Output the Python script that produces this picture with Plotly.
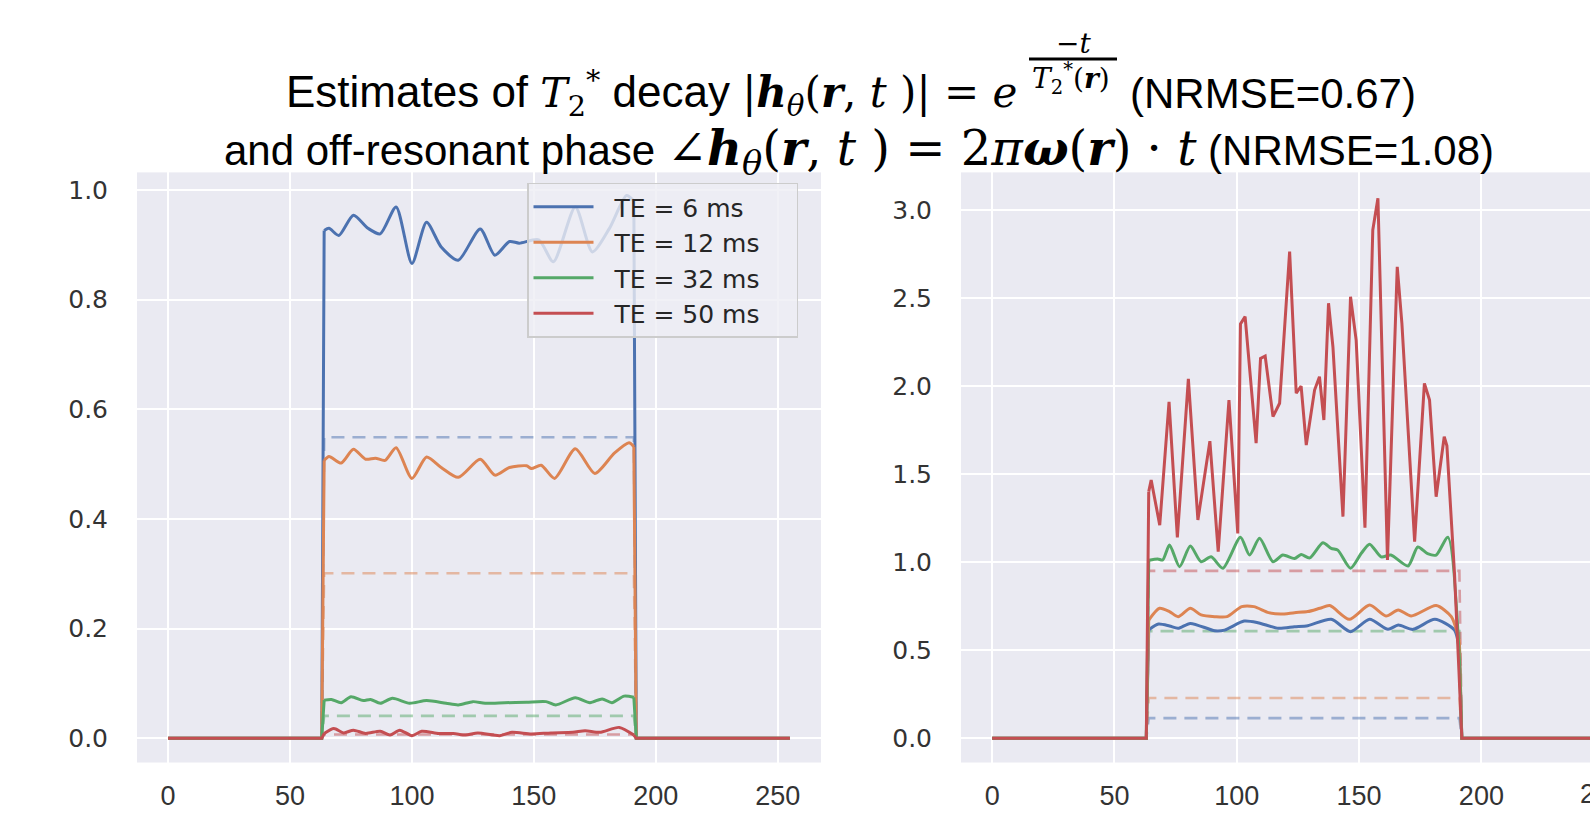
import plotly.graph_objects as go

# ---------------- data ----------------
te_labels = ["TE = 6 ms", "TE = 12 ms", "TE = 32 ms", "TE = 50 ms"]
colors = ["#4C72B0", "#DD8452", "#55A868", "#C44E52"]
dash_colors = ["rgba(76,114,176,0.5)", "rgba(221,132,82,0.5)", "rgba(85,168,104,0.5)", "rgba(196,78,82,0.5)"]

# Left panel: magnitude estimates
mag_x_6 = [0, 63, 64, 66, 70, 76, 82, 87, 93.5, 100, 106, 112, 119, 128, 134, 140, 144, 152, 158, 167, 174, 181, 188, 191, 192, 255]
mag_y_6 = [0, 0, 0.926, 0.93, 0.917, 0.954, 0.93, 0.92, 0.969, 0.866, 0.941, 0.896, 0.872, 0.929, 0.881, 0.906, 0.903, 0.909, 0.869, 0.969, 0.887, 0.93, 0.99, 0.98, 0, 0]

mag_x_12 = [0, 63, 64, 66, 71, 76, 81, 85, 89, 93.5, 100, 106, 112, 119, 128, 134, 140, 147, 149, 153, 158.5, 167, 175, 183, 189, 191, 192, 255]
mag_y_12 = [0, 0, 0.507, 0.514, 0.502, 0.527, 0.509, 0.511, 0.507, 0.53, 0.474, 0.513, 0.494, 0.476, 0.509, 0.48, 0.494, 0.497, 0.492, 0.498, 0.474, 0.528, 0.483, 0.52, 0.539, 0.532, 0, 0]

mag_x_32 = [0, 63, 64, 67, 71, 75, 80, 83, 87, 92, 99, 106, 114, 119, 125, 130, 138, 147, 155, 159, 167, 173, 178, 182, 187, 191, 192, 255]
mag_y_32 = [0, 0, 0.0697, 0.071, 0.065, 0.076, 0.069, 0.071, 0.064, 0.073, 0.064, 0.069, 0.064, 0.061, 0.067, 0.064, 0.065, 0.066, 0.067, 0.061, 0.074, 0.065, 0.072, 0.065, 0.077, 0.075, 0, 0]

mag_x_50 = [0, 63, 64, 68, 72, 76, 81, 87, 91, 95, 100, 104, 111, 117, 122, 127, 136, 141, 149, 157, 166, 171, 177, 185, 191, 192, 255]
mag_y_50 = [0, 0, 0.009, 0.018, 0.01, 0.015, 0.009, 0.013, 0.006, 0.015, 0.005, 0.013, 0.009, 0.009, 0.006, 0.01, 0.005, 0.011, 0.008, 0.01, 0.011, 0.014, 0.011, 0.02, 0.006, 0, 0]

# ground truth levels (dashed)
gt_x = [0, 63, 64, 191, 192, 255]
mag_truth = [0.549, 0.301, 0.041, 0.007]
phase_truth = [0.114, 0.228, 0.608, 0.95]

# Right panel: phase estimates
ph_x_6 = [0, 63, 64, 68, 72.5, 76, 81, 91, 95, 103, 108.6, 117, 123.6, 129, 138.6, 146.5, 154.3, 161.8, 166, 172, 181, 189, 191, 192, 255]
ph_y_6 = [0, 0, 0.615, 0.648, 0.637, 0.624, 0.652, 0.61, 0.614, 0.665, 0.656, 0.624, 0.633, 0.639, 0.675, 0.605, 0.675, 0.618, 0.643, 0.618, 0.675, 0.614, 0.5, 0, 0]

ph_x_12 = [0, 63, 64, 68.4, 72.5, 76, 81, 85.4, 91, 96, 102, 107, 113, 118, 123.6, 129, 134, 138, 146, 154.3, 161, 166, 171.3, 181.5, 187.7, 191, 192, 255]
ph_y_12 = [0, 0, 0.671, 0.738, 0.719, 0.69, 0.738, 0.70, 0.69, 0.69, 0.747, 0.747, 0.713, 0.705, 0.713, 0.719, 0.738, 0.753, 0.675, 0.756, 0.694, 0.728, 0.694, 0.753, 0.69, 0.55, 0, 0]

ph_x_32 = [0, 63, 64, 67.7, 69.7, 72.5, 76.6, 81, 85.4, 89.5, 94.3, 101.5, 105.2, 109.3, 114.8, 118.8, 123.6, 126.3, 129.8, 135.2, 138.6, 141.3, 146.5, 150.9, 154.3, 159, 163, 170, 174, 178, 181.5, 186.3, 191, 192, 255]
ph_y_32 = [0, 0, 1.01, 1.018, 1.012, 1.097, 0.974, 1.091, 1.002, 1.03, 0.965, 1.141, 1.04, 1.135, 1.002, 1.04, 1.02, 1.043, 1.024, 1.11, 1.078, 1.068, 0.965, 1.05, 1.102, 1.03, 1.04, 0.978, 1.086, 1.048, 1.04, 1.141, 0.45, 0, 0]

ph_x_50 = [0, 63, 64, 65, 68.5, 72.3, 75.7, 80.2, 84.1, 89, 92.4, 96.8, 100.4, 101.5, 103.4, 107.9, 109.7, 111.6, 114.8, 117.5, 121.6, 124.3, 126.3, 128.4, 131.8, 133.8, 135.6, 137.5, 139.3, 143.4, 146.5, 148.8, 152.4, 155.6, 157.7, 161.6, 165.6, 167.5, 172.7, 176.7, 178.8, 181.5, 184.8, 185.9, 189, 190.8, 192, 255]
ph_y_50 = [0, 0, 1.40, 1.466, 1.21, 1.91, 1.14, 2.04, 1.239, 1.687, 1.059, 1.92, 1.163, 2.352, 2.394, 1.675, 2.157, 2.17, 1.826, 1.902, 2.763, 1.959, 2.0, 1.665, 1.977, 2.053, 1.807, 2.47, 2.223, 1.258, 2.507, 2.261, 1.195, 2.886, 3.066, 1.012, 2.677, 2.356, 1.116, 2.015, 1.92, 1.371, 1.712, 1.66, 0.936, 0.387, 0, 0]

x_ticks_left = [0, 50, 100, 150, 200, 250]
x_ticks_right = [0, 50, 100, 150, 200]
y_ticks_left = [0.0, 0.2, 0.4, 0.6, 0.8, 1.0]
y_ticks_right = [0.0, 0.5, 1.0, 1.5, 2.0, 2.5, 3.0]

mag_series = [(mag_x_6, mag_y_6), (mag_x_12, mag_y_12), (mag_x_32, mag_y_32), (mag_x_50, mag_y_50)]
ph_series = [(ph_x_6, ph_y_6), (ph_x_12, ph_y_12), (ph_x_32, ph_y_32), (ph_x_50, ph_y_50)]

# ---------------- figure ----------------
W, H = 1590, 815
fig = go.Figure()

LW = 3.0
DASH = dict(width=2.6, dash="13px,8px")
NB = "\u00a0"

for i in range(4):
    g = mag_truth[i]
    fig.add_trace(go.Scatter(x=gt_x, y=[0, 0, g, g, 0, 0], mode="lines",
                             line=dict(color=dash_colors[i], **DASH),
                             showlegend=False, xaxis="x", yaxis="y", hoverinfo="skip"))
for i in range(4):
    g = phase_truth[i]
    fig.add_trace(go.Scatter(x=gt_x, y=[0, 0, g, g, 0, 0], mode="lines",
                             line=dict(color=dash_colors[i], **DASH),
                             showlegend=False, xaxis="x2", yaxis="y2", hoverinfo="skip"))


def add_curve(xs, ys, i, xa, ya, legend, smooth):
    # step edges drawn straight, plateau optionally smoothed
    sx = xs[:3] + [None] + xs[-3:]
    sy = ys[:3] + [None] + ys[-3:]
    fig.add_trace(go.Scatter(x=sx, y=sy, mode="lines", showlegend=False, legendgroup=str(i),
                             line=dict(color=colors[i], width=LW), xaxis=xa, yaxis=ya,
                             connectgaps=False, hoverinfo="skip"))
    fig.add_trace(go.Scatter(x=xs[2:-2], y=ys[2:-2], mode="lines",
                             name=NB * 2 + te_labels[i] + NB * 4,
                             showlegend=legend, legendgroup=str(i),
                             line=dict(color=colors[i], width=LW,
                                       shape="spline" if smooth else "linear", smoothing=0.7),
                             xaxis=xa, yaxis=ya))


for i in range(4):
    xs, ys = mag_series[i]
    add_curve(xs, ys, i, "x", "y", True, True)
for i in range(4):
    xs, ys = ph_series[i]
    add_curve(xs, ys, i, "x2", "y2", False, i != 3)


def px(xp):
    return xp / W


def py(yp):
    return (H - yp) / H


y_dom = [py(762.5), py(172.4)]
tick_col = "#333333"
xfont = dict(family="Liberation Sans", size=27, color=tick_col)
yfont = dict(family="DejaVu Sans", size=25, color=tick_col)

common_x = dict(showgrid=True, gridcolor="white", gridwidth=2, zeroline=False, showline=False,
                ticks="", tickfont=xfont, ticklabelstandoff=14)
common_y = dict(showgrid=True, gridcolor="white", gridwidth=2, zeroline=False, showline=False,
                ticks="", tickfont=yfont, tickformat=".1f", ticklabelstandoff=28)

fig.update_layout(
    width=W, height=H, autosize=False,
    margin=dict(l=0, r=0, t=0, b=0, pad=0),
    paper_bgcolor="white", plot_bgcolor="#EAEAF2",
    xaxis=dict(domain=[px(137), px(821)], range=[-12.75, 267.75], tickvals=x_ticks_left, anchor="y", **common_x),
    yaxis=dict(domain=y_dom, range=[-0.044, 1.032], tickvals=y_ticks_left, anchor="x", **common_y),
    xaxis2=dict(domain=[px(961), 1.0], range=[-12.75, 244.4], tickvals=x_ticks_right, anchor="y2", **common_x),
    yaxis2=dict(domain=y_dom, range=[-0.138, 3.213], tickvals=y_ticks_right, anchor="x2", **common_y),
    legend=dict(x=px(527), y=py(182.5), xanchor="left", yanchor="top",
                bgcolor="rgba(238,238,244,0.8)", bordercolor="#CCCCCC", borderwidth=1.5,
                font=dict(family="DejaVu Sans", size=25, color="#262626"),
                itemwidth=60, tracegroupgap=0),
    showlegend=True,
)

SERIF = "DejaVu Serif"
SANS = "Liberation Sans"
TFS = 42


def m(s, size):
    return f'<span style="font-family:{SERIF};font-size:{size}px">{s}</span>'


t1 = ("Estimates of " + m("<i>T</i><sub>2</sub><sup>*</sup>", 41) + " decay " +
      m("|<b><i>h</i></b><sub><i>θ</i></sub>(<b><i>r</i></b>, <i>t</i> )| = <i>e</i>", 42))
t1c = "(NRMSE=0.67)"
numer = m("−<i>t</i>", 28)
denom = m("<i>T</i><sub>2</sub><sup>*</sup>(<b><i>r</i></b>)", 28)
t2 = ("and off-resonant phase " +
      m("∠<b><i>h</i></b><sub><i>θ</i></sub>(<b><i>r</i></b>, <i>t</i> )" + NB + "=" + NB +
        "2<i>π</i><b><i>ω</i></b>(<b><i>r</i></b>)" + NB + "·" + NB + "<i>t</i>", 48) +
      " (NRMSE=1.08)")

Y1 = 93
Y2 = 151
annots = [
    dict(text=t1, x=px(1019), y=py(Y1), xanchor="right", font=dict(family=SANS, size=44, color="black")),
    dict(text=t1c, x=px(1128), y=py(Y1), xanchor="left"),
    dict(text=numer, x=px(1073), y=py(43), xanchor="center"),
    dict(text=denom, x=px(1071), y=py(78), xanchor="center"),
    dict(text=t2, x=px(859), y=py(Y2), xanchor="center"),
]
for a in annots:
    a.setdefault("font", dict(family=SANS, size=TFS, color="black"))
    a.update(xref="paper", yref="paper", showarrow=False, yanchor="middle")
annots.append(dict(text="250", x=px(1602.5), y=py(794), xanchor="center", yanchor="middle",
                   xref="paper", yref="paper", showarrow=False, font=xfont))
fig.update_layout(annotations=annots)

fig.add_shape(type="line", xref="paper", yref="paper", x0=px(1029), x1=px(1117), y0=py(59), y1=py(59),
              line=dict(color="black", width=3))

fig.write_html("out.html", config={"displayModeBar": False},
               post_script="document.body.style.margin='0';document.body.style.overflow='hidden';")
